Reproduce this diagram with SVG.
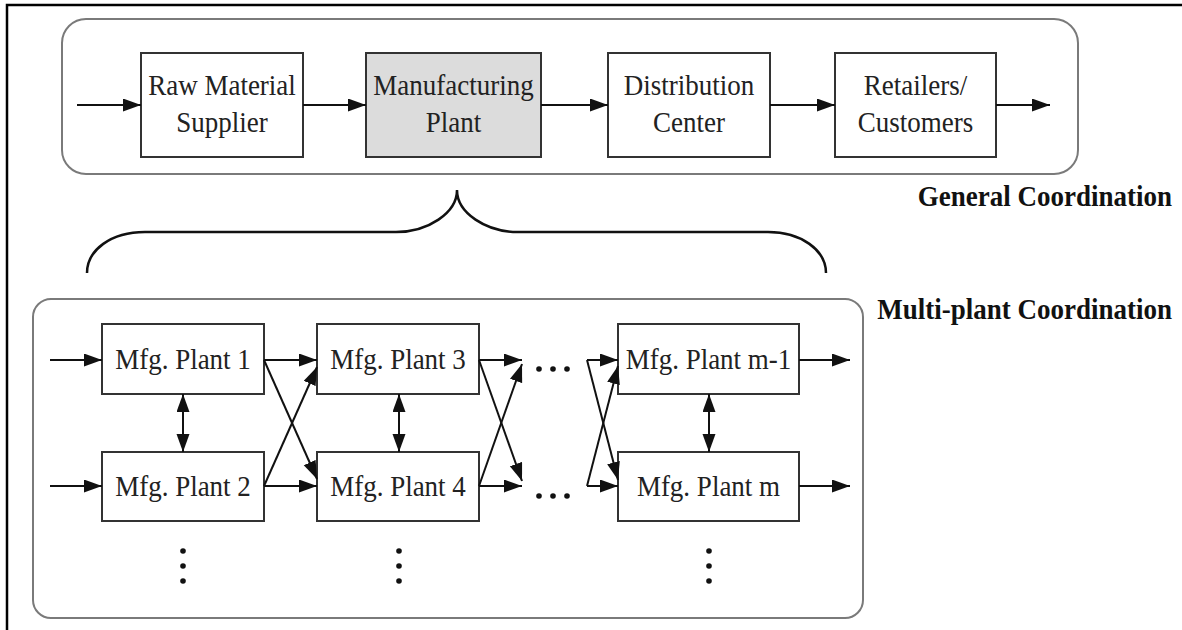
<svg xmlns="http://www.w3.org/2000/svg" width="1182" height="630" viewBox="0 0 1182 630">
  <defs>
    <marker id="arrow" markerUnits="userSpaceOnUse" markerWidth="19" markerHeight="14" refX="18" refY="6.5" orient="auto-start-reverse">
      <path d="M0,0 L18,6.5 L0,13 z" fill="#111"/>
    </marker>
    <style>
      .frame { fill: none; stroke: #000; stroke-width: 2.5; }
      .panel { fill: #fff; stroke: #7a7a7a; stroke-width: 2; }
      .box { fill: #fff; stroke: #333; stroke-width: 2; }
      .box.hl { fill: #dcdcdc; }
      .lbl { font-family: "Liberation Serif", "Times New Roman", serif; font-size: 27px; fill: #222; text-anchor: middle; }
      .title { font-family: "Liberation Serif", "Times New Roman", serif; font-size: 27px; font-weight: bold; fill: #111; text-anchor: end; }
      .conn path { fill: none; stroke: #111; stroke-width: 2; marker-end: url(#arrow); }
      .conn path.both { marker-start: url(#arrow); }
      .brace { fill: none; stroke: #111; stroke-width: 2.5; }
      .dot { fill: #111; }
    </style>
  </defs>

  <rect width="1182" height="630" fill="#fff"/>
  <!-- page edge lines -->
  <path class="frame" d="M7,630 V5 H1182"/>

  <!-- container panels -->
  <rect id="general-panel" class="panel" x="62" y="19" width="1016" height="155" rx="24"/>
  <rect id="multiplant-panel" class="panel" x="33" y="299" width="830" height="319" rx="18"/>

  <!-- labels are drawn slightly tall: translate to the baseline, then stretch vertically -->
  <text class="title" transform="translate(1172 206) scale(1 1.1)">General Coordination</text>
  <text class="title" transform="translate(1172 319) scale(1 1.1)">Multi-plant Coordination</text>

  <!-- brace linking the plant stage to the multi-plant view -->
  <path class="brace" d="M87,273 C87,250 111,232 145,232 L396,232 C428,232 457,213 457,190 C457,213 486,232 518,232 L768,232 C801,232 826,250 826,273"/>

  <!-- supply chain stages -->
  <g id="raw-material">
    <rect class="box" x="141" y="53" width="162" height="104"/>
    <text class="lbl" transform="translate(222 95) scale(1 1.1)">Raw Material</text>
    <text class="lbl" transform="translate(222 132) scale(1 1.1)">Supplier</text>
  </g>
  <g id="manufacturing">
    <rect class="box hl" x="366" y="53" width="175" height="104"/>
    <text class="lbl" transform="translate(453.5 95) scale(1 1.1)">Manufacturing</text>
    <text class="lbl" transform="translate(453.5 132) scale(1 1.1)">Plant</text>
  </g>
  <g id="distribution">
    <rect class="box" x="608" y="53" width="162" height="104"/>
    <text class="lbl" transform="translate(689 95) scale(1 1.1)">Distribution</text>
    <text class="lbl" transform="translate(689 132) scale(1 1.1)">Center</text>
  </g>
  <g id="retailers">
    <rect class="box" x="835" y="53" width="161" height="104"/>
    <text class="lbl" transform="translate(915.5 95) scale(1 1.1)">Retailers/</text>
    <text class="lbl" transform="translate(915.5 132) scale(1 1.1)">Customers</text>
  </g>

  <!-- manufacturing plants -->
  <g id="plant-1">
    <rect class="box" x="102" y="324" width="162" height="70"/>
    <text class="lbl" transform="translate(183 369) scale(1 1.1)">Mfg. Plant 1</text>
  </g>
  <g id="plant-2">
    <rect class="box" x="102" y="452" width="162" height="69"/>
    <text class="lbl" transform="translate(183 496) scale(1 1.1)">Mfg. Plant 2</text>
  </g>
  <g id="plant-3">
    <rect class="box" x="317" y="324" width="162" height="70"/>
    <text class="lbl" transform="translate(398 369) scale(1 1.1)">Mfg. Plant 3</text>
  </g>
  <g id="plant-4">
    <rect class="box" x="317" y="452" width="162" height="69"/>
    <text class="lbl" transform="translate(398 496) scale(1 1.1)">Mfg. Plant 4</text>
  </g>
  <g id="plant-m-1">
    <rect class="box" x="618" y="324" width="181" height="70"/>
    <text class="lbl" transform="translate(708.5 369) scale(1 1.1)">Mfg. Plant m-1</text>
  </g>
  <g id="plant-m">
    <rect class="box" x="618" y="452" width="181" height="69"/>
    <text class="lbl" transform="translate(708.5 496) scale(1 1.1)">Mfg. Plant m</text>
  </g>

  <!-- ellipses -->
  <g id="ellipses">
    <circle class="dot" cx="539" cy="369" r="2.8"/>
    <circle class="dot" cx="553" cy="369" r="2.8"/>
    <circle class="dot" cx="567" cy="369" r="2.8"/>
    <circle class="dot" cx="539" cy="496" r="2.8"/>
    <circle class="dot" cx="553" cy="496" r="2.8"/>
    <circle class="dot" cx="567" cy="496" r="2.8"/>
    <circle class="dot" cx="183" cy="551" r="2.8"/>
    <circle class="dot" cx="183" cy="566" r="2.8"/>
    <circle class="dot" cx="183" cy="581" r="2.8"/>
    <circle class="dot" cx="399" cy="551" r="2.8"/>
    <circle class="dot" cx="399" cy="566" r="2.8"/>
    <circle class="dot" cx="399" cy="581" r="2.8"/>
    <circle class="dot" cx="709" cy="551" r="2.8"/>
    <circle class="dot" cx="709" cy="566" r="2.8"/>
    <circle class="dot" cx="709" cy="581" r="2.8"/>
  </g>

  <!-- connectors -->
  <g id="connectors" class="conn">
    <path d="M77,105 H141"/>
    <path d="M303,105 H366"/>
    <path d="M541,105 H608"/>
    <path d="M770,105 H835"/>
    <path d="M996,105 H1050"/>

    <path d="M50,360 H102"/>
    <path d="M50,486 H102"/>
    <path d="M264,360 H317"/>
    <path d="M264,486 H317"/>
    <path d="M264,360 L317,479"/>
    <path d="M264,486 L317,367"/>
    <path class="both" d="M183,394 V452"/>
    <path class="both" d="M399,394 V452"/>
    <path class="both" d="M709,394 V452"/>

    <path d="M479,360 H522"/>
    <path d="M479,486 H522"/>
    <path d="M479,360 L522,481"/>
    <path d="M479,486 L522,364"/>

    <path d="M587,360 H618"/>
    <path d="M587,486 H618"/>
    <path d="M587,360 L618,480"/>
    <path d="M587,486 L618,366"/>

    <path d="M799,360 H850"/>
    <path d="M799,486 H850"/>
  </g>
</svg>
